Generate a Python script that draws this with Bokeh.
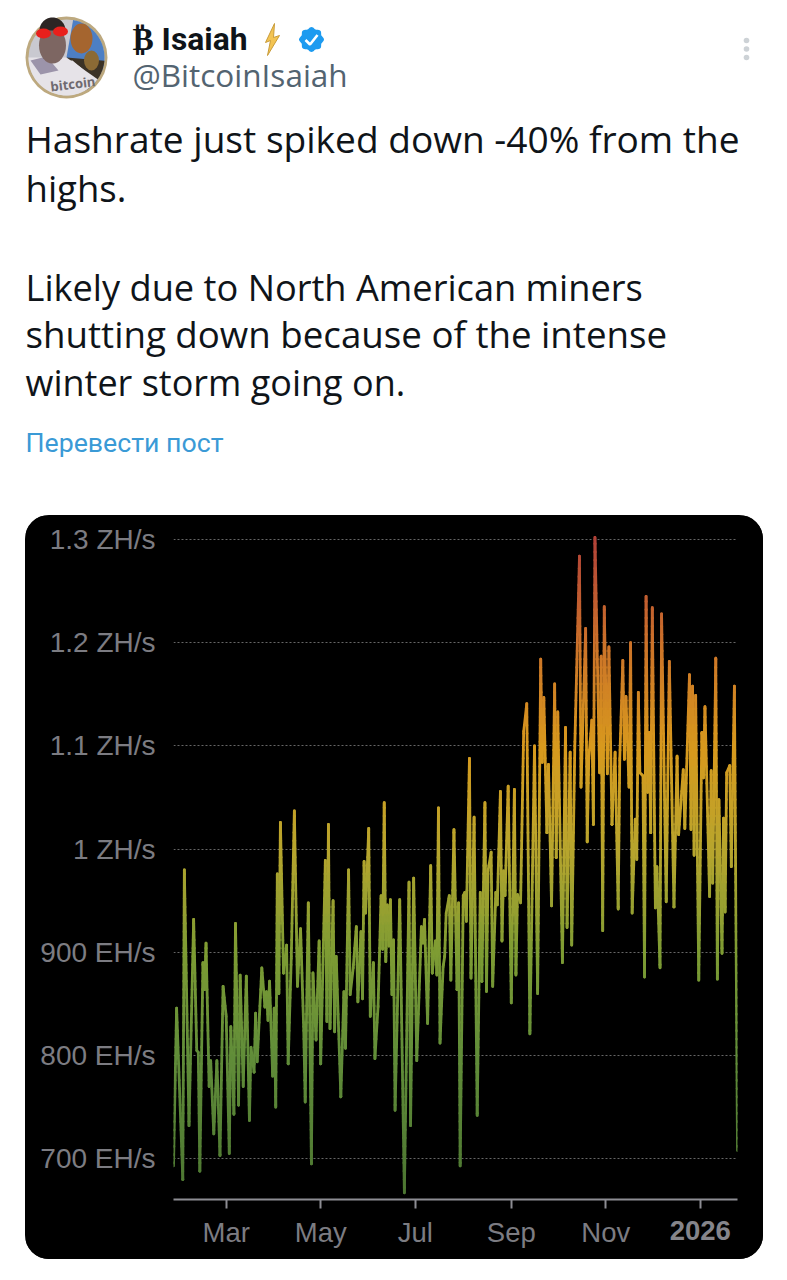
from datetime import datetime
import numpy as np
from bokeh.embed import file_html
from bokeh.models import (ColumnDataSource, FixedTicker, Label, LinearAxis,
                          LinearColorMapper, Range1d)
from bokeh.plotting import figure
from bokeh.resources import INLINE

# ---- tweet texts
NAME = "₿ Isaiah"
HANDLE = "@BitcoinIsaiah"
BODY_LINES = ["Hashrate just spiked down -40% from the", "highs.",
              "Likely due to North American miners",
              "shutting down because of the intense",
              "winter storm going on."]
BODY_SIZES = ["37.1px", "36.5px", "36.2px", "36.7px", "36px"]
BODY_BASES = [138, 187, 286, 333, 382]
TRANSLATE = "Перевести пост"

# ---- chart data: days since 26 Jan 2025, hashrate in EH/s
days_a = [0,2,6,7,10,13,15,16,17,19,20,21,23,24,26,28,30,32,34,36,37,39,40,42,43,45,47,49,50,52,53,54,57,59,60,61,62,64,65,66,67,68,69,71,73,74,76,78,80,82,84,85,87,89]
hash_a = [693,846,680,980,732,932,805,803,688,890,864,909,770,795,724,795,703,867,838,705,828,743,928,752,878,770,877,737,808,784,841,794,885,847,862,834,872,780,846,750,976,860,1026,880,907,792,894,1037,867,923,828,755,948,695]
days_b = [90,92,94,95,98,99,100,101,103,104,105,108,110,111,113,114,116,118,119,121,122,123,124,126,127,129,130,132,134,135,136,137,138,139,140,141,142,143,145,146,149,152,153,155,157,160,161,162,164,166,167,169,170,171,172,174,175,176,178,179,181,183,184,185]
hash_b = [880,815,911,792,989,833,1024,826,950,823,896,760,862,807,980,859,885,925,852,920,855,988,938,1020,838,890,797,847,955,903,1045,891,946,906,951,859,912,747,878,951,667,968,732,972,795,925,909,932,831,984,880,911,878,1040,812,886,896,938,955,873,1019,864,948,693]
days_c = [187,188,189,191,192,194,196,198,199,201,202,203,205,206,208,209,211,212,213,214,216,218,220,221,222,224,226,228,230,233,235,237,238,239,241,242,244,246,247,248,251,253,254,256,257,259]
hash_c = [955,958,930,1088,875,1031,742,958,872,1045,862,979,997,867,958,946,1056,911,979,955,1061,851,1058,878,956,948,1114,1141,821,1100,860,1184,1084,1147,1016,1082,945,1160,992,1133,890,1118,924,1094,907,1100]
days_d = [262,263,266,267,268,270,271,272,275,276,277,278,280,281,283,285,287,288,290,291,292,294,295,296,298,299,300,301,303,304,305,306,307,308,309,311,312,314,315,318,320,323,325,326,329,330,333,334,335,336,337,339,341,342,343,346,347,348,350,351,352,354,355,356,357,359,360,362,364]
hash_d = [1284,1060,1214,1007,1087,1125,1024,1302,1074,1187,921,1235,1073,1196,1024,1094,942,1086,1183,1087,1148,1060,1200,938,1029,990,1152,1074,1071,876,1245,1055,1113,1016,1234,943,983,885,1228,949,1182,944,1090,1014,1077,1020,1169,1019,1158,994,1149,873,1113,1069,1138,954,1076,967,1185,874,1048,899,1030,939,1074,1081,983,1158,708]

y_ticks = [700, 800, 900, 1000, 1100, 1200, 1300]
y_tick_labels = ["700 EH/s", "800 EH/s", "900 EH/s", "1 ZH/s", "1.1 ZH/s", "1.2 ZH/s", "1.3 ZH/s"]
x_tick_dates = ["2025-03-01", "2025-05-01", "2025-07-01", "2025-09-01", "2025-11-01", "2026-01-01"]
x_tick_labels = ["Mar", "May", "Jul", "Sep", "Nov", ""]
bold_tick_label = "2026"

gradient_levels = [660, 800, 900, 1000, 1100, 1200, 1310]
gradient_colors = [(76, 118, 50), (98, 142, 58), (126, 156, 52), (184, 166, 46),
                   (216, 154, 30), (204, 114, 42), (176, 62, 58)]

FONT = "Open Sans"
CHART_FONT = "Liberation Sans"

# ---- header figure: ranges equal page pixels
head = figure(width=787, height=515, x_range=Range1d(0, 787), y_range=Range1d(515, 0),
              output_backend="svg", toolbar_location=None, min_border=0,
              x_axis_location=None, y_axis_location=None, outline_line_color=None,
              background_fill_color="white", border_fill_color="white")
head.grid.visible = False


def sector(cx, cy, r, a0, a1):
    t = np.radians(np.linspace(a0, a1, 40))
    return [cx] + list(cx + r * np.cos(t)), [cy] + list(cy + r * np.sin(t))


# avatar
cx, cy = 66, 57
head.circle([cx], [cy], radius=41, fill_color="#bda97f", line_color=None)
head.circle([cx], [cy], radius=38, fill_color="#c9c9d0", line_color=None)
xs, ys = sector(cx, cy, 38, -80, 20)
head.patch(xs, ys, fill_color="#4d7fc4", line_color=None)
head.ellipse([81], [38], width=22, height=30, fill_color="#a5652f", line_color=None)
xs, ys = sector(cx, cy, 38, 5, 60)
head.patch(xs, ys, fill_color="#3b3226", line_color=None)
head.ellipse([91], [60], width=15, height=20, fill_color="#8b6a35", line_color=None)
xs, ys = sector(cx, cy, 38, 35, 180)
head.patch(xs, ys, fill_color="#e6e3e8", line_color=None)
head.patch([29, 48, 72, 84, 90, 60], [58, 62, 60, 70, 86, 90], fill_color="#e6e3e8", line_color=None)
head.patch([30, 46, 58, 40], [60, 56, 70, 74], fill_color="#9c94aa", line_color=None)
head.ellipse([52], [45], width=27, height=36, fill_color="#7d6662", line_color=None)
xs, ys = sector(52, 30, 13, 180, 360)
head.patch(xs, ys, fill_color="#2c2524", line_color=None)
head.ellipse([43, 60], [33, 31], width=15, height=10, fill_color="#e8201c", line_color=None)
head.add_layout(Label(x=50, y=86, text="bitcoin", text_font=FONT, text_font_style="bold",
                      text_font_size="13px", text_color="#6f6a70", angle=0.12,
                      text_baseline="alphabetic"))

# name, bolt, badge
head.add_layout(Label(x=132, y=38, text=NAME, text_font="Roboto", text_font_style="bold",
                      text_font_size="31.8px", text_color="#0f1419", text_baseline="alphabetic"))
head.patch([274, 265, 270, 267, 279, 273], [23, 42, 40, 55, 35, 37],
           fill_color="#f3c453", line_color="#c99c3a", line_width=1)
t = np.linspace(0, 2 * np.pi, 97)
rad = 11.6 + 0.9 * np.cos(8 * t)
head.patch(311 + rad * np.cos(t), 39 + rad * np.sin(t), fill_color="#1d9bf0", line_color=None)
head.line([305, 309.5, 317], [39.5, 44, 34.5], line_color="white", line_width=2.6)
head.add_layout(Label(x=132, y=74, text=HANDLE, text_font=FONT, text_font_size="31.5px",
                      text_color="#536471", text_baseline="alphabetic"))
# menu dots
head.circle([746, 746, 746], [40, 48.5, 57], radius=2.8, fill_color="#cdd2d6", line_color=None)

# body
for line, size, base in zip(BODY_LINES, BODY_SIZES, BODY_BASES):
    head.add_layout(Label(x=25, y=base, text=line, text_font=FONT, text_font_size=size,
                          text_color="#0f1419", text_baseline="alphabetic"))
head.add_layout(Label(x=25, y=442.5, text=TRANSLATE, text_font="Roboto", text_font_size="26.7px",
                      text_color="#3a9ad6", text_baseline="alphabetic"))

# ---- chart figure
days = np.array(days_a + days_b + days_c + days_d, dtype=float)
vals = np.array(hash_a + hash_b + hash_c + hash_d, dtype=float)
EPOCH = datetime(2025, 1, 26)
DAY_MS = 86400000.0
epoch_ms = (EPOCH - datetime(1970, 1, 1)).total_seconds() * 1000.0
x_ms = epoch_ms + days * DAY_MS

# palette for the value gradient
stops = np.linspace(gradient_levels[0], gradient_levels[-1], 128)
rgb = [np.interp(stops, gradient_levels, [c[i] for c in gradient_colors]) for i in range(3)]
palette = ["#%02x%02x%02x" % (int(r), int(g), int(b)) for r, g, b in zip(*rgb)]
mapper = LinearColorMapper(palette=palette, low=gradient_levels[0], high=gradient_levels[-1])

# split every line segment at colour-band edges so the stroke follows the vertical gradient
band = 8.0
x0s, y0s, x1s, y1s = [], [], [], []
for i in range(len(vals) - 1):
    a, b = vals[i], vals[i + 1]
    xa, xb = x_ms[i], x_ms[i + 1]
    lo, hi = min(a, b), max(a, b)
    edges = np.arange(np.ceil(lo / band) * band, hi, band)
    seq = [a] + list(edges if a < b else edges[::-1]) + [b]
    for u, v in zip(seq[:-1], seq[1:]):
        f0 = (u - a) / (b - a)
        f1 = (v - a) / (b - a)
        x0s.append(xa + f0 * (xb - xa))
        x1s.append(xa + f1 * (xb - xa))
        y0s.append(u)
        y1s.append(v)
seg = ColumnDataSource(dict(x0=x0s, y0=y0s, x1=x1s, y1=y1s,
                            val=[(p + q) / 2 for p, q in zip(y0s, y1s)]))

chart = figure(width=738, height=744, x_axis_type="datetime",
               x_range=Range1d(x_ms[0], x_ms[-1]), y_range=Range1d(660.5, 1310.7),
               output_backend="svg", toolbar_location=None, margin=(0, 0, 0, 25),
               min_border_left=148, min_border_right=26, min_border_top=13, min_border_bottom=60,
               outline_line_color=None,
               background_fill_color="black", border_fill_color="black",
               styles={"border-radius": "24px", "overflow": "hidden", "background-color": "black"})

chart.segment("x0", "y0", "x1", "y1", source=seg, line_width=2.8, line_cap="round",
              line_color={"field": "val", "transform": mapper})

tick_ms = [(datetime.fromisoformat(d) - datetime(1970, 1, 1)).total_seconds() * 1000.0 for d in x_tick_dates]
ax = chart.xaxis[0]
ax.ticker = FixedTicker(ticks=tick_ms)
ax.major_label_overrides = dict(zip(tick_ms, x_tick_labels))
ax.axis_line_color = "#8d8d93"
ax.axis_line_width = 2
ax.major_tick_line_color = "#8d8d93"
ax.major_tick_line_width = 2
ax.major_tick_in = 0
ax.major_tick_out = 9
ax.minor_tick_line_color = None
ax.major_label_text_font = CHART_FONT
ax.major_label_text_font_size = "27.5px"
ax.major_label_text_color = "#7c7c82"
ax.major_label_standoff = 8

ay = chart.yaxis[0]
ay.ticker = FixedTicker(ticks=y_ticks)
ay.major_label_overrides = dict(zip(y_ticks, y_tick_labels))
ay.axis_line_color = None
ay.major_tick_line_color = None
ay.minor_tick_line_color = None
ay.major_tick_in = 0
ay.major_tick_out = 0
ay.major_label_text_font = CHART_FONT
ay.major_label_text_font_size = "28px"
ay.major_label_text_color = "#7c7c82"
ay.major_label_standoff = 18

chart.xgrid.visible = False
chart.ygrid.grid_line_color = "#666666"
chart.ygrid.grid_line_dash = [2, 2]
chart.ygrid.grid_line_width = 1.2

# the year tick is bold, so it gets an axis of its own stacked under the date axis
bold_axis = LinearAxis(ticker=FixedTicker(ticks=[tick_ms[-1]]),
                       major_label_overrides={tick_ms[-1]: bold_tick_label},
                       axis_line_color=None,
                       major_tick_line_color=None, minor_tick_line_color=None,
                       major_tick_in=0, major_tick_out=0, major_label_standoff=-30,
                       major_label_text_font=CHART_FONT, major_label_text_font_style="bold",
                       major_label_text_font_size="27.5px", major_label_text_color="#85858b")
chart.add_layout(bold_axis, "below")

open("out.html", "w").write(file_html([head, chart], INLINE))
